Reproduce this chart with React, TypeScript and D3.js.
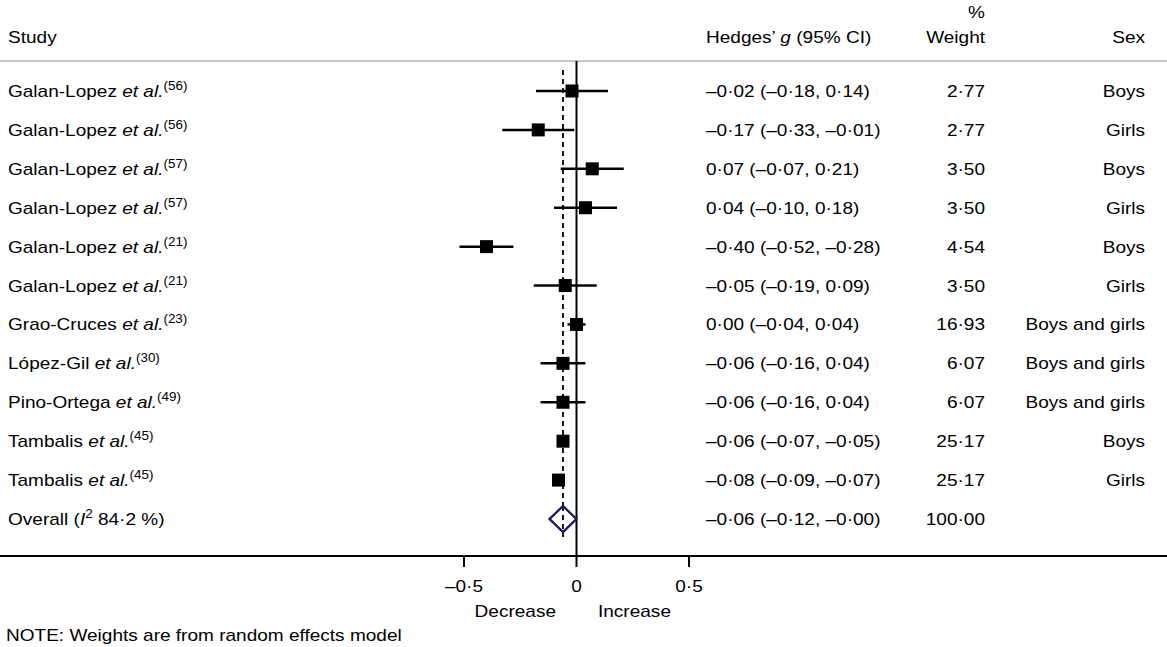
import React from 'react';
import * as d3 from 'd3';

const authors = [
  'Galan-Lopez', 'Galan-Lopez', 'Galan-Lopez', 'Galan-Lopez', 'Galan-Lopez', 'Galan-Lopez',
  'Grao-Cruces', 'López-Gil', 'Pino-Ortega', 'Tambalis', 'Tambalis',
];
const refs = ['56', '56', '57', '57', '21', '21', '23', '30', '49', '45', '45'];
const effects = [-0.02, -0.17, 0.07, 0.04, -0.4, -0.05, 0.0, -0.06, -0.06, -0.06, -0.08];
const lower = [-0.18, -0.33, -0.07, -0.1, -0.52, -0.19, -0.04, -0.16, -0.16, -0.07, -0.09];
const upper = [0.14, -0.01, 0.21, 0.18, -0.28, 0.09, 0.04, 0.04, 0.04, -0.05, -0.07];
const weights = [2.77, 2.77, 3.5, 3.5, 4.54, 3.5, 16.93, 6.07, 6.07, 25.17, 25.17];
const sexes = ['Boys', 'Girls', 'Boys', 'Girls', 'Boys', 'Girls', 'Boys and girls', 'Boys and girls', 'Boys and girls', 'Boys', 'Girls'];

const overall = { es: -0.06, lo: -0.12, hi: -0, weight: 100, i2: 84.2 };
const xTicks = [-0.5, 0, 0.5];

const FONT = '"Liberation Sans", Arial, Helvetica, sans-serif';
const FS = 17;
const STRETCH = 1.12;

function fmt(v: number, digits = 2) {
  const neg = v < 0 || Object.is(v, -0);
  const s = Math.abs(v).toFixed(digits).replace('.', '·');
  return (neg ? '–' : '') + s;
}
function tickFmt(v: number) {
  if (v === 0) return '0';
  return (v < 0 ? '–' : '') + String(Math.abs(v)).replace('.', '·');
}

// text slightly widened horizontally, like the original rendering
function T({ x, y, anchor = 'start', children }: { x: number; y: number; anchor?: string; children: React.ReactNode }) {
  return (
    <text transform={`translate(${x},${y}) scale(${STRETCH},1)`} textAnchor={anchor} fontSize={FS}>
      {children}
    </text>
  );
}

export default function App() {
  const width = 1167;
  const height = 647;

  const xScale = d3.scaleLinear().domain([-0.5, 0.5]).range([464, 689]);
  const rows = d3.range(effects.length + 1);
  const yScale = d3.scalePoint<number>().domain(rows).range([91, 519]);

  const headerLineY = 61;
  const axisY = 556;
  const box = 13;
  const bl = 6; // baseline offset from row centre

  const studyRows = effects.map((e, i) => {
    const y = yScale(i) ?? 0;
    return (
      <g key={i}>
        <line x1={xScale(lower[i])} x2={xScale(upper[i])} y1={y} y2={y} stroke="#000" strokeWidth={2.5} />
        <rect x={xScale(e) - box / 2} y={y - box / 2} width={box} height={box} fill="#000" />
        <T x={8} y={y + bl}>
          {authors[i]} <tspan fontStyle="italic">et al.</tspan>
          <tspan fontSize={12} dy={-7}>({refs[i]})</tspan>
        </T>
        <T x={706} y={y + bl}>{`${fmt(e)} (${fmt(lower[i])}, ${fmt(upper[i])})`}</T>
        <T x={985} y={y + bl} anchor="end">{fmt(weights[i])}</T>
        <T x={1145} y={y + bl} anchor="end">{sexes[i]}</T>
      </g>
    );
  });

  const oy = yScale(effects.length) ?? 0;
  const dh = 13;
  const diamond = [
    [xScale(overall.lo), oy],
    [xScale(overall.es), oy - dh],
    [xScale(overall.hi), oy],
    [xScale(overall.es), oy + dh],
  ];

  return (
    <svg
      width={width}
      height={height}
      style={{ position: 'absolute', left: 0, top: 0, background: '#fff' }}
      fontFamily={FONT}
    >
      {/* headers */}
      <T x={8} y={43}>Study</T>
      <T x={706} y={43}>
        Hedges’ <tspan fontStyle="italic">g</tspan> (95% CI)
      </T>
      <T x={985} y={18} anchor="end">%</T>
      <T x={985} y={43} anchor="end">Weight</T>
      <T x={1145} y={43} anchor="end">Sex</T>
      <line x1={0} x2={width} y1={headerLineY} y2={headerLineY} stroke="#c8c8c8" strokeWidth={2} />

      {/* null line and overall line */}
      <line x1={xScale(0)} x2={xScale(0)} y1={headerLineY} y2={axisY} stroke="#000" strokeWidth={2} />
      <line
        x1={xScale(overall.es)}
        x2={xScale(overall.es)}
        y1={70}
        y2={537}
        stroke="#000"
        strokeWidth={1.8}
        strokeDasharray="5,4"
      />

      {studyRows}

      {/* overall */}
      <polygon
        points={diamond.map((p) => p.join(',')).join(' ')}
        fill="#fff"
        stroke="#1f1f5e"
        strokeWidth={2}
      />
      <line x1={xScale(overall.es)} x2={xScale(overall.es)} y1={oy - dh} y2={oy + dh + 5} stroke="#000" strokeWidth={1.8} strokeDasharray="5,4" />
      <polygon
        points={diamond.map((p) => p.join(',')).join(' ')}
        fill="none"
        stroke="#1f1f5e"
        strokeWidth={2}
      />
      <T x={8} y={oy + bl}>
        Overall (<tspan fontStyle="italic">I</tspan>
        <tspan fontSize={12} dy={-7}>2</tspan>
        <tspan dy={7}> {fmt(overall.i2, 1)} %)</tspan>
      </T>
      <T x={706} y={oy + bl}>{`${fmt(overall.es)} (${fmt(overall.lo)}, ${fmt(overall.hi)})`}</T>
      <T x={985} y={oy + bl} anchor="end">{fmt(overall.weight)}</T>

      {/* axis */}
      <line x1={0} x2={width} y1={axisY} y2={axisY} stroke="#000" strokeWidth={2} />
      {xTicks.map((t) => (
        <g key={t}>
          <line x1={xScale(t)} x2={xScale(t)} y1={axisY} y2={axisY + 11} stroke="#000" strokeWidth={2} />
          <T x={xScale(t)} y={592} anchor="middle">{tickFmt(t)}</T>
        </g>
      ))}
      <T x={556} y={617} anchor="end">Decrease</T>
      <T x={598} y={617}>Increase</T>

      <T x={6} y={641}>NOTE: Weights are from random effects model</T>
    </svg>
  );
}
